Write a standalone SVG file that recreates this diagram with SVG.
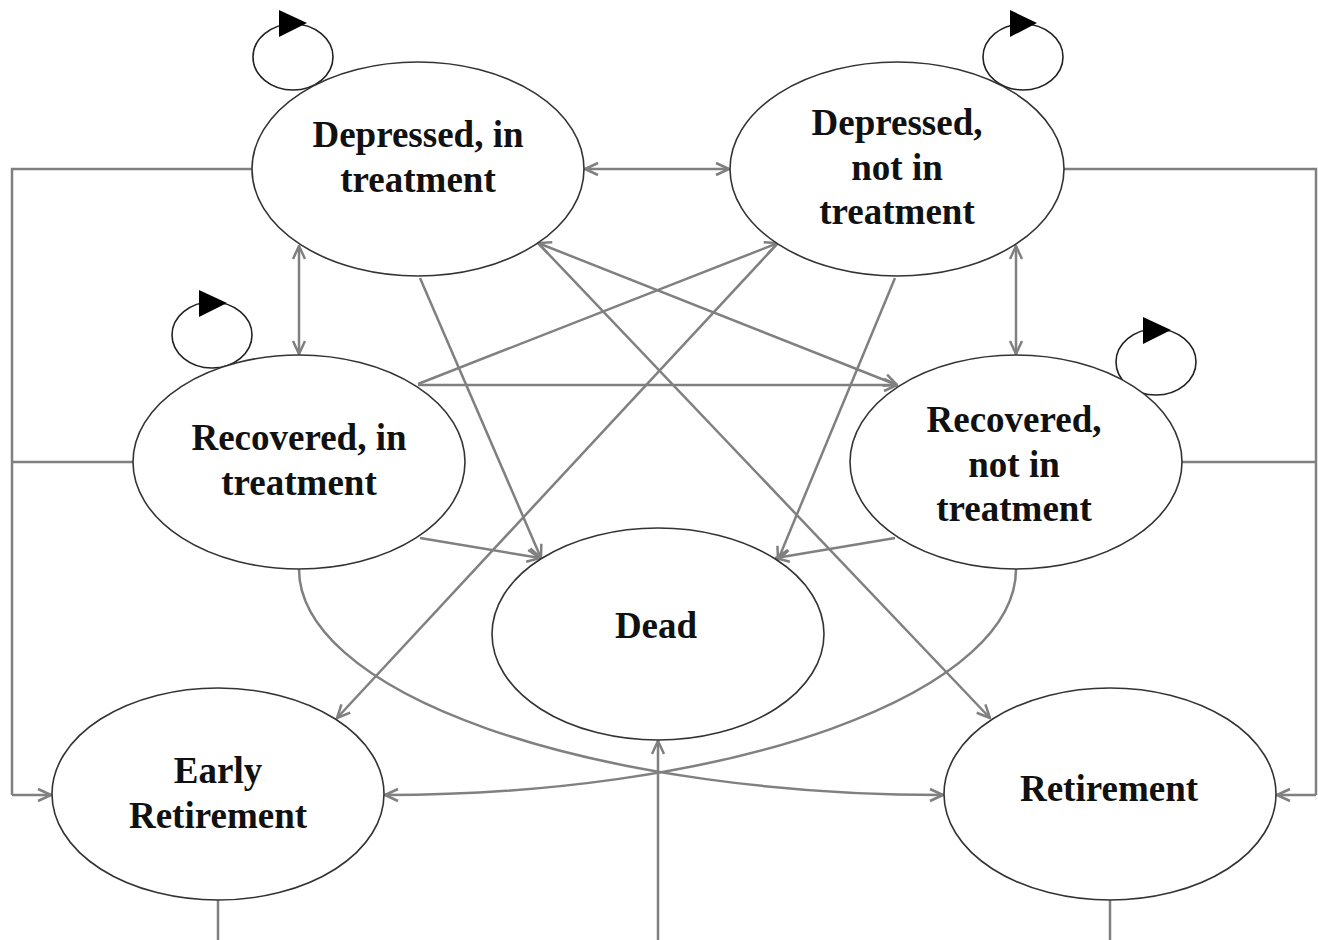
<svg xmlns="http://www.w3.org/2000/svg" width="1318" height="940" viewBox="0 0 1318 940">
<defs>
<style>
.node{fill:#fff;stroke:#333;stroke-width:1.6}
.loop{fill:none;stroke:#222;stroke-width:1.6}
.tri{fill:#000}
.c{fill:none;stroke:#808080;stroke-width:2.5}
.a{marker-end:url(#ah)}
.b{marker-start:url(#ah);marker-end:url(#ah)}
text{font-family:"Liberation Serif","Times New Roman",serif;font-weight:bold;font-size:37px;fill:#111;text-anchor:middle}
</style>
<marker id="ah" viewBox="0 0 16 16" refX="15" refY="8" markerWidth="16" markerHeight="16" markerUnits="userSpaceOnUse" orient="auto-start-reverse">
<path d="M2,2 L15,8 L2,14" fill="none" stroke="#808080" stroke-width="2.5"/>
</marker>
</defs>
<rect width="1318" height="940" fill="#fff"/>
<g id="connectors">
<path class="c b" d="M585,169 L729,169"/>
<path class="c b" d="M299,246 L299,354"/>
<path class="c b" d="M1016,246 L1016,354"/>
<path class="c" d="M252,169 L12,169 L12,795"/>
<path class="c" d="M133,462 L12,462"/>
<path class="c a" d="M12,795 L51,795"/>
<path class="c" d="M1064,169 L1316,169 L1316,795"/>
<path class="c" d="M1182,462 L1316,462"/>
<path class="c a" d="M1316,795 L1277,795"/>
<path class="c" d="M218,900 L218,940"/>
<path class="c" d="M1110,900 L1110,940"/>
<path class="c a" d="M658,940 L658,741"/>
<path class="c a" d="M420,278 L541,558"/>
<path class="c a" d="M895,278 L778,560"/>
<path class="c a" d="M420,538 L540,558"/>
<path class="c a" d="M895,538 L776,558"/>
<path class="c b" d="M538,243 L897,385"/>
<path class="c a" d="M538,243 L990,718"/>
<path class="c a" d="M418,384 L778,243"/>
<path class="c a" d="M778,243 L337,718"/>
<path class="c a" d="M418,385 L897,385"/>
<path class="c a" d="M299,569 A644,226 0 0 0 943,795"/>
<path class="c a" d="M1016,569 A631,226 0 0 1 385,795"/>
</g>
<g id="loop1"><ellipse class="loop" cx="293" cy="57" rx="40" ry="33"/><polygon class="tri" points="279,10 279,37 307,23"/></g>
<g id="loop2"><ellipse class="loop" cx="1023" cy="57" rx="40" ry="33"/><polygon class="tri" points="1010,10 1010,37 1037,23"/></g>
<g id="loop3"><ellipse class="loop" cx="212" cy="335" rx="40" ry="33"/><polygon class="tri" points="199,290 199,317 227,303"/></g>
<g id="loop4"><ellipse class="loop" cx="1156" cy="362" rx="40" ry="33"/><polygon class="tri" points="1143,317 1143,344 1171,330"/></g>
<g id="dep-treat"><ellipse class="node" cx="418" cy="169" rx="166" ry="107"/><text x="418" y="147">Depressed, in</text><text x="418" y="192">treatment</text></g>
<g id="dep-notreat"><ellipse class="node" cx="897" cy="169" rx="167" ry="107"/><text x="897" y="135">Depressed,</text><text x="897" y="180">not in</text><text x="897" y="224">treatment</text></g>
<g id="rec-treat"><ellipse class="node" cx="299" cy="462" rx="166" ry="107"/><text x="299" y="450">Recovered, in</text><text x="299" y="495">treatment</text></g>
<g id="rec-notreat"><ellipse class="node" cx="1016" cy="462" rx="166" ry="107"/><text x="1014" y="432">Recovered,</text><text x="1014" y="477">not in</text><text x="1014" y="521">treatment</text></g>
<g id="dead"><ellipse class="node" cx="658" cy="634" rx="166" ry="106"/><text x="656" y="638">Dead</text></g>
<g id="early"><ellipse class="node" cx="218" cy="794" rx="166" ry="106"/><text x="218" y="783">Early</text><text x="218" y="828">Retirement</text></g>
<g id="retire"><ellipse class="node" cx="1110" cy="794" rx="166" ry="106"/><text x="1109" y="801">Retirement</text></g>
</svg>
